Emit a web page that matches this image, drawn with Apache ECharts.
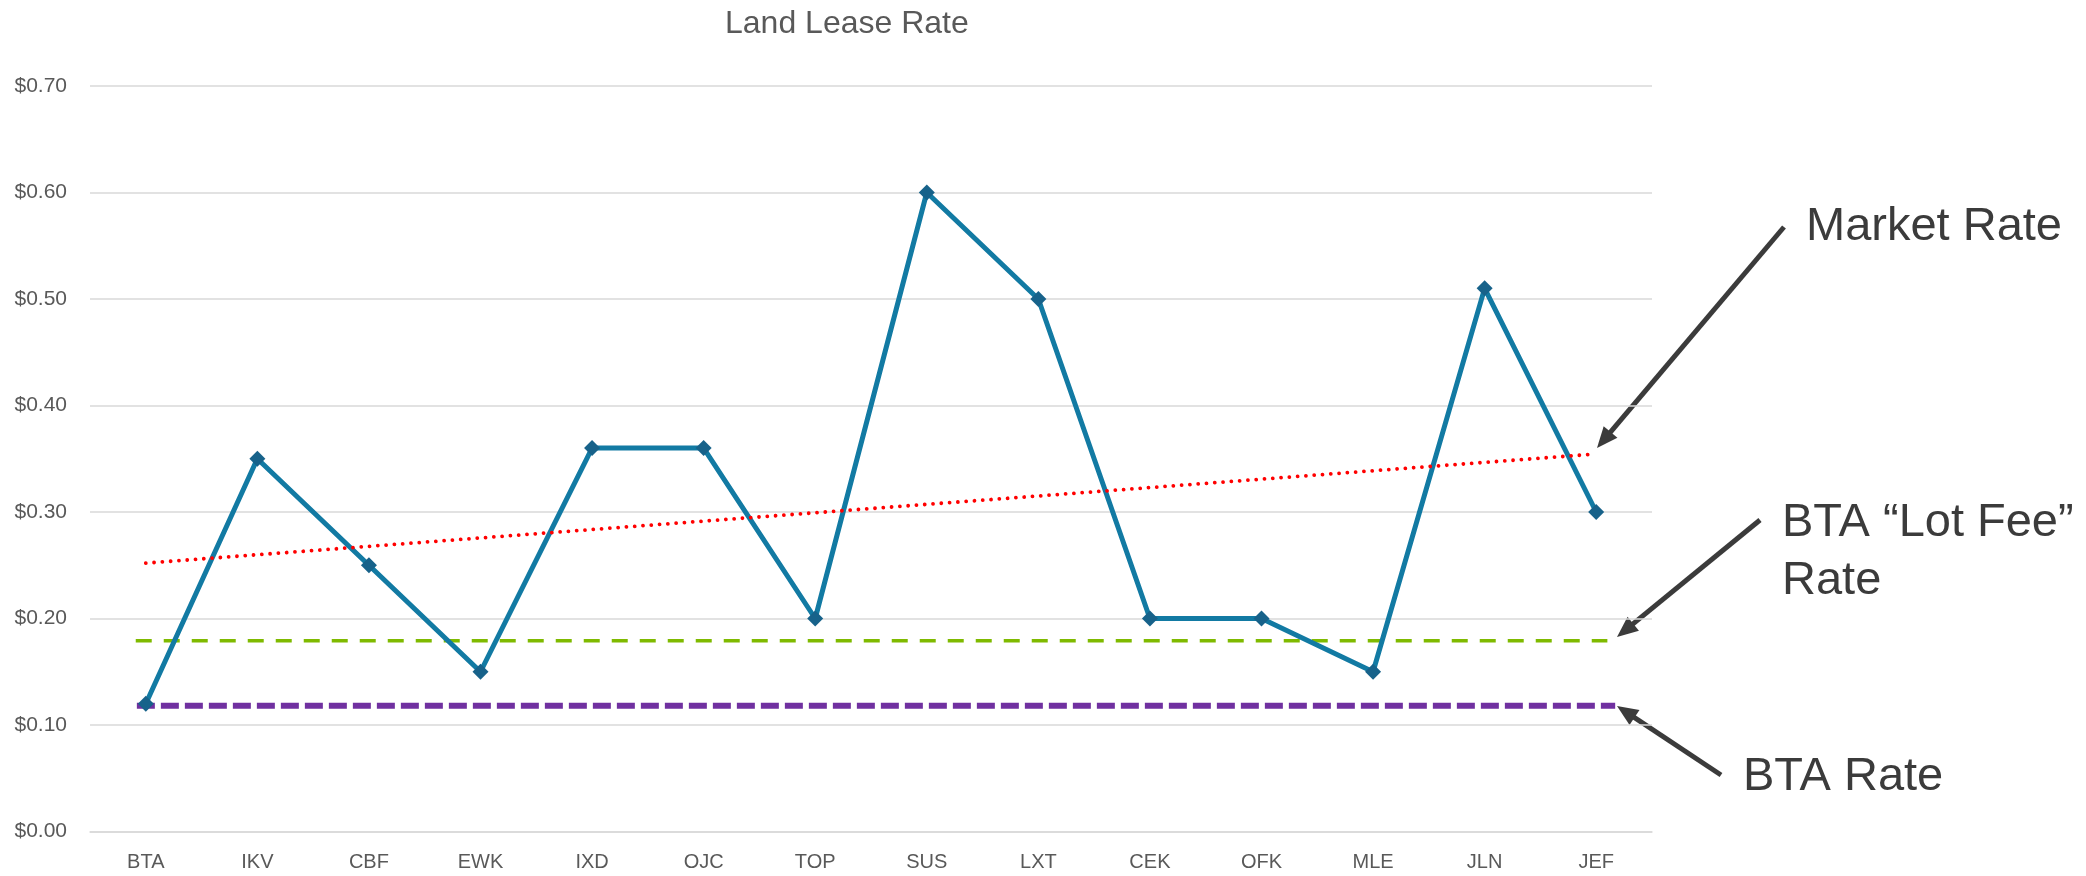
<!DOCTYPE html>
<html>
<head>
    <meta charset="utf-8">
    <title>Land Lease Rate</title>
    <script src="https://cdn.jsdelivr.net/npm/echarts@6/dist/echarts.min.js"></script>
    <style>
    html, body { margin: 0; padding: 0; background: #fff; }
    #main { width: 2086px; height: 876px; }
    </style>
</head>
<body>
    <div id="main"></div>
    <script>
    // airports and their lease rate ($)
    const categories = ['BTA', 'IKV', 'CBF', 'EWK', 'IXD', 'OJC', 'TOP', 'SUS', 'LXT', 'CEK', 'OFK', 'MLE', 'JLN', 'JEF'];
    const leaseRates = [0.12, 0.35, 0.25, 0.15, 0.36, 0.36, 0.20, 0.60, 0.50, 0.20, 0.20, 0.15, 0.51, 0.30];
    const yTicks = [0, 0.1, 0.2, 0.3, 0.4, 0.5, 0.6, 0.7];

    // reference lines: x is in category slots (0..14), y in $
    const marketTrendX = [0.5, 13.44];
    const marketTrendY = [0.252, 0.354];
    const lotFeeX = [0.41, 13.6];
    const lotFeeRate = 0.179;
    const btaX = [0.42, 13.67];
    const btaRate = 0.118;

    const font = 'Liberation Sans, Arial, sans-serif';
    const noteColor = '#3b3b3b';

    // arrow: line from tail to tip plus a head
    function arrow(x1, y1, x2, y2) {
        const dx = x2 - x1, dy = y2 - y1;
        const len = Math.sqrt(dx * dx + dy * dy);
        const ux = dx / len, uy = dy / len;
        const hl = 21, hw = 9;
        const bx = x2 - ux * hl, by = y2 - uy * hl;
        return {
            type: 'group',
            children: [{
                type: 'line',
                shape: { x1: x1, y1: y1, x2: x2 - ux * 12, y2: y2 - uy * 12 },
                style: { stroke: noteColor, lineWidth: 5 }
            }, {
                type: 'polygon',
                shape: { points: [[x2, y2], [bx - uy * hw, by + ux * hw], [bx + uy * hw, by - ux * hw]] },
                style: { fill: noteColor }
            }]
        };
    }

    function note(text, x, baseline) {
        return {
            type: 'text',
            left: x,
            top: baseline - 38,
            style: { text: text, font: '47px ' + font, fill: noteColor }
        };
    }

    const myChart = echarts.init(document.getElementById('main'));

    const option = {
        backgroundColor: '#fff',
        animation: false,
        title: {
            text: 'Land Lease Rate',
            left: 720,
            top: 3,
            textStyle: { fontFamily: font, fontSize: 32, fontWeight: 'normal', color: '#595959' }
        },
        grid: { left: 90, right: 434, top: 86, bottom: 44.5 },
        xAxis: [{
            type: 'category',
            data: categories,
            boundaryGap: true,
            axisLine: { lineStyle: { color: '#d9d9d9', width: 1.5 } },
            axisTick: { show: false },
            axisLabel: { fontFamily: font, fontSize: 20, color: '#595959', margin: 21 }
        }, {
            type: 'value',
            min: 0,
            max: categories.length,
            show: false
        }],
        yAxis: {
            type: 'value',
            min: yTicks[0],
            max: yTicks[yTicks.length - 1],
            interval: 0.1,
            axisLine: { show: false },
            axisTick: { show: false },
            splitLine: { lineStyle: { color: '#d9d9d9', width: 1.5 } },
            axisLabel: {
                fontFamily: font, fontSize: 21, color: '#595959', margin: 23,
                formatter: function(v) { return '$' + v.toFixed(2); }
            }
        },
        series: [{
            name: 'BTA Rate',
            type: 'line',
            xAxisIndex: 1,
            symbol: 'none',
            data: btaX.map(function(x) { return [x, btaRate]; }),
            lineStyle: { color: '#7030a0', width: 6, type: [18, 6] }
        }, {
            name: 'BTA Lot Fee Rate',
            type: 'line',
            xAxisIndex: 1,
            symbol: 'none',
            data: lotFeeX.map(function(x) { return [x, lotFeeRate]; }),
            lineStyle: { color: '#7fba00', width: 3.5, type: [16, 12] }
        }, {
            name: 'Land Lease Rate',
            type: 'line',
            xAxisIndex: 0,
            data: leaseRates,
            symbol: 'diamond',
            symbolSize: 16,
            itemStyle: { color: '#17628a' },
            lineStyle: { color: '#127aa3', width: 5 }
        }, {
            name: 'Market Rate',
            type: 'line',
            xAxisIndex: 1,
            symbol: 'none',
            data: marketTrendX.map(function(x, i) { return [x, marketTrendY[i]]; }),
            lineStyle: { color: '#ff0000', width: 3.8, type: [0.01, 8.3], cap: 'round' }
        }],
        graphic: [
            arrow(1784, 227, 1597, 448),
            arrow(1760, 520, 1617, 637),
            arrow(1721, 775, 1617, 706),
            note('Market Rate', 1806, 242),
            note('BTA \u201cLot Fee\u201d', 1782, 538),
            note('Rate', 1782, 596),
            note('BTA Rate', 1743, 792)
        ]
    };

    myChart.setOption(option);
    </script>
</body>
</html>
